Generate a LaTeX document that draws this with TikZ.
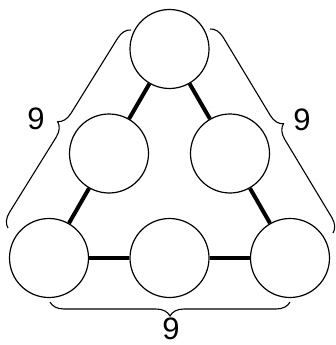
\documentclass[tikz,border=0pt]{standalone}
\usepackage{fontspec}
\setmainfont{Liberation Sans}
\usetikzlibrary{decorations.pathreplacing}
\begin{document}
\begin{tikzpicture}[x=1pt,y=-1pt,
  ball/.style={circle,draw,line width=1.2pt,minimum size=79pt,inner sep=0pt,fill=white},
  link/.style={line width=4pt},
  bracket/.style={line width=1.1pt,decorate,decoration={brace,amplitude=14pt}},
  num/.style={font=\fontsize{31}{31}\selectfont,inner sep=0pt}]
\useasboundingbox (0,0) rectangle (336,345);
\node[ball] (T)  at (169.5,49) {};
\node[ball] (ML) at (109,153.5) {};
\node[ball] (MR) at (230,153.5) {};
\node[ball] (BL) at (49,258) {};
\node[ball] (BM) at (169.5,258) {};
\node[ball] (BR) at (290,258) {};
\draw[link] (T) -- (ML);
\draw[link] (ML) -- (BL);
\draw[link] (T) -- (MR);
\draw[link] (MR) -- (BR);
\draw[link] (BL) -- (BM);
\draw[link] (BM) -- (BR);
\coordinate (la) at (8,228);
\coordinate (lb) at (131,30);
\coordinate (ra) at (210,29);
\coordinate (rb) at (333,233);
\coordinate (ba) at (290,302);
\coordinate (bb) at (50,302);
\draw[bracket] (la) -- (lb);
\draw[bracket] (ra) -- (rb);
\draw[bracket] (ba) -- (bb);
\node[num] (nl) at (36,118.5) {9};
\node[num] (nr) at (302,119.5) {9};
\node[num,anchor=base] (nb) at (171,339) {9};
\end{tikzpicture}
\end{document}
